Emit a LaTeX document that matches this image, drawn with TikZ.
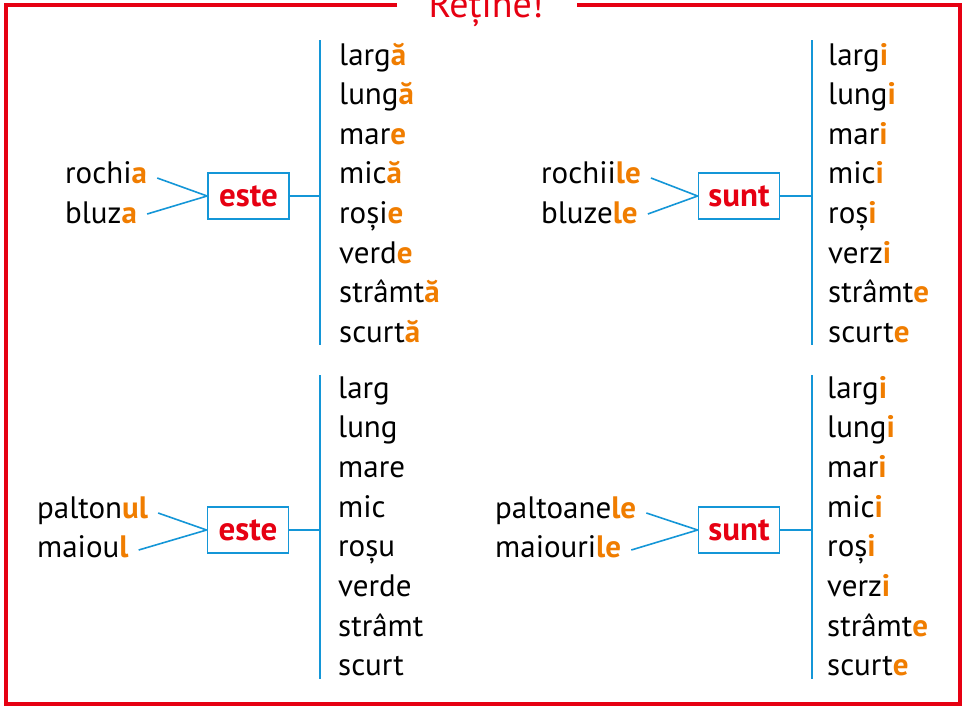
\documentclass[tikz,border=0pt]{standalone}
\usepackage{fontspec}
\setmainfont{PT Sans}
\definecolor{fred}{RGB}{230,0,18}
\definecolor{forange}{RGB}{240,125,0}
\definecolor{fblue}{RGB}{20,150,215}
\newcommand{\ee}[1]{\textbf{\textcolor{forange}{#1}}}
\begin{document}
\begin{tikzpicture}[x=1pt,y=-1pt,
  word/.style={font=\fontsize{31}{31}\selectfont, anchor=base west, inner sep=0pt},
  verb/.style={draw=fblue, line width=1.8pt, minimum width=81pt, minimum height=46pt, inner sep=0pt, font=\fontsize{33}{33}\selectfont\bfseries, text=fred},
  conn/.style={draw=fblue, line width=1.6pt},
  ttl/.style={font=\fontsize{38}{38}\selectfont, text=fred, anchor=base, inner sep=0pt},
]
\useasboundingbox (0,0) rectangle (966,707);
\clip (0,0) rectangle (966,707);
% frame
\draw[fred, line width=4pt] (397,5) -| (6,704) -| (960,5) -- (577,5);
\node[ttl] (title) at (486,17) {Reține!};

% ---------- top left ----------
\node[word] (s11) at (65,183) {rochi\ee{a}};
\node[word] (s12) at (65,223) {bluz\ee{a}};
\node[verb] (v1) at (248.5,196) {este};
\draw[conn] ([shift={(10,-5)}]s11.base east) -- (v1.west);
\draw[conn] ([shift={(10,-9)}]s12.base east) -- (v1.west);
\coordinate (t1) at (320,40);
\coordinate (b1) at (320,345);
\draw[conn] (t1) -- (b1);
\draw[conn] (v1.east) -- (v1.east -| t1);
\foreach \w [count=\i from 0] in {larg\ee{ă},lung\ee{ă},mar\ee{e},mic\ee{ă},roși\ee{e},verd\ee{e},strâmt\ee{ă},scurt\ee{ă}}
  \node[word] (wa\i) at (339,65+39.6*\i) {\w};

% ---------- top right ----------
\node[word] (s21) at (541,183) {rochii\ee{le}};
\node[word] (s22) at (541,223) {bluze\ee{le}};
\node[verb] (v2) at (739,196) {sunt};
\draw[conn] ([shift={(10,-5)}]s21.base east) -- (v2.west);
\draw[conn] ([shift={(10,-9)}]s22.base east) -- (v2.west);
\coordinate (t2) at (812,40);
\coordinate (b2) at (812,345);
\draw[conn] (t2) -- (b2);
\draw[conn] (v2.east) -- (v2.east -| t2);
\foreach \w [count=\i from 0] in {larg\ee{i},lung\ee{i},mar\ee{i},mic\ee{i},roș\ee{i},verz\ee{i},strâmt\ee{e},scurt\ee{e}}
  \node[word] (wb\i) at (828,65+39.6*\i) {\w};

% ---------- bottom left ----------
\node[word] (s31) at (37,518) {palton\ee{ul}};
\node[word] (s32) at (37,557) {maiou\ee{l}};
\node[verb] (v3) at (248,530) {este};
\draw[conn] ([shift={(10,-5)}]s31.base east) -- (v3.west);
\draw[conn] ([shift={(10,-7)}]s32.base east) -- (v3.west);
\coordinate (t3) at (320,375);
\coordinate (b3) at (320,679);
\draw[conn] (t3) -- (b3);
\draw[conn] (v3.east) -- (v3.east -| t3);
\foreach \w [count=\i from 0] in {larg,lung,mare,mic,roșu,verde,strâmt,scurt}
  \node[word] (wc\i) at (338,398+39.7*\i) {\w};

% ---------- bottom right ----------
\node[word] (s41) at (495,518) {paltoane\ee{le}};
\node[word] (s42) at (495,557) {maiouri\ee{le}};
\node[verb] (v4) at (739,530) {sunt};
\draw[conn] ([shift={(10,-5)}]s41.base east) -- (v4.west);
\draw[conn] ([shift={(10,-7)}]s42.base east) -- (v4.west);
\coordinate (t4) at (812,375);
\coordinate (b4) at (812,679);
\draw[conn] (t4) -- (b4);
\draw[conn] (v4.east) -- (v4.east -| t4);
\foreach \w [count=\i from 0] in {larg\ee{i},lung\ee{i},mar\ee{i},mic\ee{i},roș\ee{i},verz\ee{i},strâmt\ee{e},scurt\ee{e}}
  \node[word] (wd\i) at (827,398+39.7*\i) {\w};
\end{tikzpicture}
\end{document}
